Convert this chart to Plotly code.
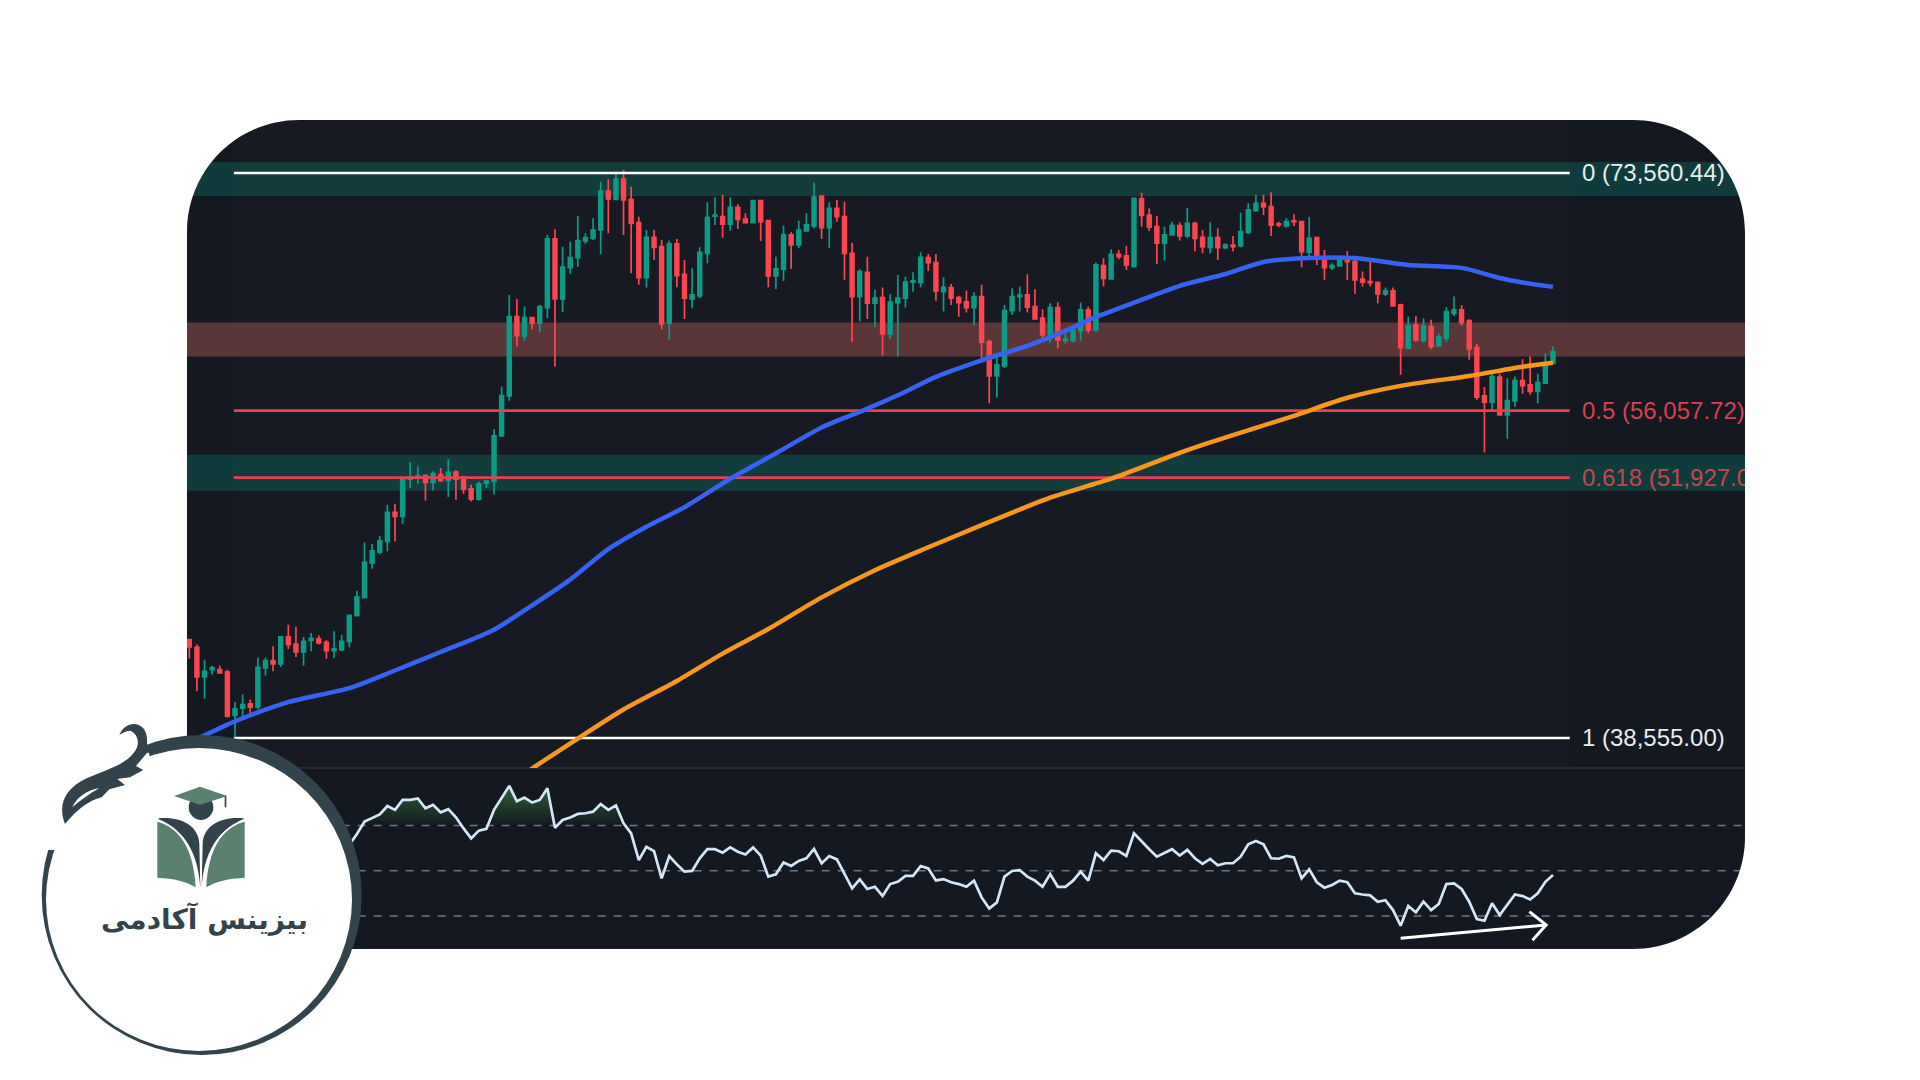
import math
import plotly.graph_objects as go

# daily candles
OPEN = [43150, 42770, 41350, 41690, 41690, 41580, 39560, 39890, 40090, 39950,
        41770, 42120, 41970, 43280, 42930, 42550, 43110, 43180, 43010, 42610,
        42660, 43060, 44350, 45270, 47100, 47690, 48270, 49900, 49670, 51840,
        51900, 52060, 51640, 52100, 51760, 52260, 51940, 51270, 50670, 51600,
        51700, 54470, 57010, 62420, 61060, 62350, 61950, 63070, 68220, 63700,
        66020, 66780, 68060, 68270, 68920, 72060, 71380, 73060, 71380, 69500,
        65270, 68350, 67620, 61950, 67830, 65520, 63700, 63920, 67110, 70030,
        69980, 69380, 70730, 69790, 69500, 71270, 69660, 65400, 65900, 68530,
        67750, 68840, 69240, 71650, 69110, 70650, 69980, 67110, 63870, 65670,
        63390, 63790, 61200, 63430, 63750, 64930, 64900, 66780, 66400, 64230,
        64530, 63790, 63480, 63070, 63870, 60660, 58330, 59000, 62850, 63870,
        63990, 63140, 62310, 61130, 63070, 60730, 60730, 61430, 62900, 61480,
        66170, 65170, 67030, 66910, 66090, 71410, 70110, 69180, 67900, 68530,
        69260, 68450, 69450, 68350, 67570, 68320, 67540, 67750, 67680, 68740,
        70460, 71060, 70790, 69400, 69240, 69640, 69580, 67190, 68320, 66730,
        66020, 66150, 66780, 66470, 65150, 64970, 64900, 64060, 64280, 63260,
        60210, 61830, 60730, 61710, 60370, 60900, 62660, 62900, 62140, 60250,
        57010, 56610, 58250, 55790, 56690, 58020, 57730, 57300, 57850, 59190]
HIGH = [43150, 42900, 42170, 41880, 41880, 41690, 40170, 40520, 40290, 42270,
        42270, 42820, 43310, 43890, 43780, 43280, 43480, 43350, 43110, 43560,
        43390, 44400, 45630, 48220, 48150, 48590, 50340, 50400, 51900, 52840,
        52590, 52100, 52300, 52500, 53040, 52360, 52040, 51500, 51700, 51800,
        54890, 57620, 63990, 63700, 63140, 62350, 63260, 68540, 68980, 67620,
        68010, 70030, 68660, 69850, 72830, 73030, 73670, 73810, 72420, 69980,
        68920, 68920, 68140, 68090, 68220, 66600, 65970, 67570, 71140, 71550,
        71730, 71550, 70980, 70250, 71330, 71270, 69660, 66850, 69260, 68740,
        69660, 70250, 72750, 71650, 71140, 71330, 71190, 67930, 65900, 66850,
        64360, 64530, 64060, 65470, 65340, 65670, 67190, 67060, 67060, 65300,
        64800, 63920, 64310, 64190, 64730, 60780, 59640, 63260, 64480, 64600,
        65520, 64410, 62950, 63390, 63460, 61480, 61600, 63430, 63140, 66400,
        66730, 67420, 67370, 67680, 71470, 71920, 70650, 70030, 69180, 69580,
        69530, 70700, 69580, 68920, 69530, 69060, 67880, 68450, 70300, 71060,
        71740, 71740, 71960, 69580, 69850, 70170, 69580, 69980, 68400, 67370,
        66350, 66910, 67290, 66600, 65720, 66470, 64970, 64530, 64530, 63340,
        62420, 62470, 62310, 62190, 61200, 63100, 63870, 63260, 62240, 60490,
        57590, 58470, 58470, 58180, 58290, 59460, 59640, 58470, 59820, 60320]
LOW = [42220, 40670, 40330, 41460, 41500, 39470, 38620, 39470, 39530, 39830,
       41410, 41610, 41820, 42690, 42300, 41880, 42580, 42900, 42210, 42250,
       42580, 42770, 44310, 45250, 46790, 47550, 47730, 48270, 49260, 51310,
       51560, 50590, 51170, 51680, 50790, 50630, 50980, 50530, 50570, 51310,
       50920, 54470, 56690, 60320, 60730, 61530, 61320, 62310, 58960, 62740,
       65540, 66090, 67850, 68140, 67030, 68660, 71380, 68530, 65590, 64730,
       64530, 66600, 61530, 60780, 64550, 62260, 63020, 63750, 66350, 69320,
       68320, 68870, 69000, 69500, 69500, 68060, 64550, 64430, 65020, 65920,
       67500, 68840, 69060, 68220, 67500, 69580, 65100, 60660, 62070, 62260,
       61670, 59700, 60850, 59640, 63070, 64230, 64550, 65770, 63570, 62780,
       63260, 62420, 62710, 61780, 59230, 56540, 56900, 58850, 62540, 62780,
       62710, 62240, 60900, 60590, 60180, 60510, 60620, 60730, 61250, 61360,
       64600, 65100, 66650, 65840, 66050, 69180, 68840, 66300, 66550, 68480,
       68090, 68270, 67240, 67110, 67110, 66600, 67420, 67240, 67570, 68580,
       70380, 70110, 68450, 69140, 69110, 69240, 66050, 66910, 66220, 65100,
       65840, 66090, 65100, 64060, 64600, 64600, 63390, 63920, 63140, 58400,
       60160, 60660, 60620, 60140, 60320, 60660, 62470, 61780, 59410, 56760,
       53440, 56070, 55730, 54270, 56290, 57150, 57080, 56540, 57800, 59140]
CLOSE = [42790, 41350, 41610, 41790, 41540, 39530, 39860, 40060, 39940, 41800,
         42120, 41960, 43280, 42900, 42550, 43060, 43210, 42980, 42610, 42690,
         43060, 44360, 45300, 47130, 47760, 48310, 49900, 49670, 51800, 51960,
         52040, 51640, 52160, 51740, 52240, 51840, 51250, 50670, 51560, 51720,
         54470, 57030, 62420, 61080, 62350, 61950, 63140, 68220, 63700, 66050,
         66780, 68090, 68320, 68920, 72060, 71410, 73060, 71330, 69450, 65270,
         68350, 67570, 61910, 67830, 65420, 63750, 63990, 67190, 69900, 70110,
         69380, 70730, 69770, 69500, 71270, 69580, 65400, 65920, 68530, 67750,
         68920, 69320, 71590, 69110, 70650, 69980, 67110, 63870, 65720, 63390,
         63750, 61200, 63460, 63750, 64930, 65020, 66800, 66400, 64280, 64550,
         63750, 63430, 63070, 63870, 60620, 58330, 59070, 62850, 63870, 63970,
         63100, 62260, 61130, 63070, 60780, 60830, 61430, 62900, 61480, 66220,
         65210, 67030, 66850, 66220, 71470, 70090, 69140, 67900, 68530, 69260,
         68450, 69450, 68270, 67620, 68320, 67540, 67750, 67620, 68790, 70520,
         71060, 70790, 69300, 69320, 69580, 69580, 67240, 68270, 66910, 66020,
         66170, 66800, 66470, 65100, 64930, 64900, 64060, 64280, 63190, 60250,
         61760, 60780, 61760, 60320, 60970, 62780, 62900, 62000, 60160, 56930,
         56610, 58290, 55790, 56710, 58020, 57690, 57300, 57890, 59230, 59980]

# moving averages, sampled along the curves
BLUE_INDEX = [0, 5, 6, 13, 21, 27, 33, 40, 45, 50, 55, 60, 65, 71, 77, 83, 88, 93, 98,
              104, 110, 115, 119, 125, 130, 136, 141, 147, 153, 160, 167, 172, 175, 179]
BLUE_MA = [38360, 39150, 39300, 40170, 40820, 41650, 42540, 43640, 44870, 46210, 47850,
           49090, 50200, 51860, 53390, 54990, 55980, 57050, 58270, 59380, 60370, 61410,
           62400, 63630, 64660, 65540, 66450, 66750, 66750, 66220, 66000, 65240, 64910, 64580]
ORANGE_INDEX = [42, 45, 51, 57, 64, 70, 76, 83, 90, 97, 104, 113, 121, 130, 133, 140,
                145, 152, 159, 168, 175, 179]
ORANGE_MA = [36540, 37233, 38530, 39830, 41150, 42460, 43670, 45280, 46710, 47950, 49180,
             50750, 51860, 53420, 53910, 54970, 55730, 56890, 57670, 58330, 58940, 59210]

FIB_PRICES = [73560.44, 56057.72, 51927.00, 38555.00]
FIB_LABELS = ["0 (73,560.44)", "0.5 (56,057.72)", "0.618 (51,927.00)", "1 (38,555.00)"]
FIB_COLORS = ["#ffffff", "#e8404f", "#e8404f", "#ffffff"]
FIB_TEXT_COLORS = ["#e6ecef", "#d9404f", "#c9444f", "#e6ecef"]
FIB_START = 5.85
FIB_END = 181.2
FIB_LABEL_X = 182.8

# zones marked on the price pane (low, high, fill)
ZONES = [(71652, 74490, "rgba(10,130,115,0.33)"),
         (59633, 62012, "#5a3639"),
         (51155, 53304, "rgba(10,130,115,0.33)")]

RSI_INDEX = list(range(19, 180))
RSI = [53.3, 56.2, 61.4, 66.2, 71.7, 73.2, 74.9, 78.6, 76.9, 81.3, 81.3, 81.9, 77.6, 79.1,
       75.8, 77.2, 73.6, 68.7, 64.3, 67.7, 68.5, 76.9, 82.0, 87.5, 80.7, 82.3, 80.1, 81.3,
       86.4, 69.0, 72.4, 73.5, 75.1, 75.4, 76.1, 79.5, 76.9, 78.9, 71.0, 66.5, 54.7, 60.6,
       58.7, 46.6, 56.5, 52.8, 49.6, 49.9, 55.5, 59.5, 59.5, 58.0, 60.3, 58.4, 57.2, 60.3,
       56.7, 47.4, 48.4, 53.6, 52.1, 54.3, 55.5, 59.6, 53.3, 56.5, 55.0, 48.8, 42.2, 46.2,
       41.9, 42.9, 38.8, 44.1, 45.1, 47.7, 47.7, 52.1, 51.0, 45.7, 46.3, 44.9, 44.1, 42.9,
       45.6, 38.2, 33.3, 36.0, 47.4, 49.9, 50.3, 47.4, 45.6, 42.9, 48.5, 42.9, 42.9, 45.6,
       49.6, 45.6, 57.7, 54.7, 58.9, 58.6, 56.5, 66.5, 62.8, 59.5, 56.2, 57.7, 59.5, 56.7,
       59.2, 55.5, 53.0, 55.2, 52.4, 53.3, 53.3, 56.2, 61.7, 63.1, 61.7, 55.5, 55.3, 56.5,
       55.9, 46.6, 50.6, 44.9, 42.5, 43.7, 45.6, 44.9, 40.0, 39.5, 39.1, 36.3, 37.0, 32.6,
       25.7, 34.4, 31.6, 36.3, 32.6, 35.3, 44.1, 44.4, 41.9, 36.3, 28.6, 27.9, 35.6, 30.4,
       34.8, 39.5, 38.8, 37.3, 40.0, 45.1, 48.1]
RSI_LEVELS = [70, 50, 30]

# hand drawn divergence arrow on the RSI pane
ARROW_X = [159.0, 178.1, 175.9, 178.1, 176.3]
ARROW_Y = [20.2, 26.0, 31.9, 26.0, 19.3]

BOOK_GREEN = "#5a8070"
LOGO_DARK = "#33434b"
KAPPA = 0.5523


def px(x):
    return x / 1920


def py(y):
    return 1 - y / 1080


def pt(x, y):
    return f"{px(x):.5f},{py(y):.5f}"


def svg(cmds):
    # cmds: (letter, x1, y1, x2, y2, ...) in screen pixels
    out = []
    for c in cmds:
        coords = " ".join(pt(c[i], c[i + 1]) for i in range(1, len(c), 2))
        out.append(f"{c[0]} {coords}".strip())
    return " ".join(out)


def zoom_pt(zx, zy):
    # logo parts were traced on a 3x crop starting at (30, 710)
    return 30 + zx / 3, 710 + zy / 3


def logo_path(cmds):
    out = []
    for c in cmds:
        vals = []
        for i in range(1, len(c), 2):
            vals.extend(zoom_pt(c[i], c[i + 1]))
        out.append((c[0], *vals))
    return svg(out)


def path_shape(d, fill, layer="above"):
    return dict(type="path", xref="paper", yref="paper", path=d, fillcolor=fill,
                line=dict(width=0), layer=layer)


def rect_shape(x0, y0, x1, y1, fill, layer="below"):
    return dict(type="rect", xref="paper", yref="paper", x0=px(x0), x1=px(x1),
                y0=py(y1), y1=py(y0), fillcolor=fill, line=dict(width=0), layer=layer)


def ellipse(x0, y0, x1, y1, fill, layer="above"):
    return dict(type="circle", xref="paper", yref="paper", x0=px(x0), x1=px(x1),
                y0=py(y1), y1=py(y0), fillcolor=fill, line=dict(width=0), layer=layer)


def corner_mask(x, y, sx, sy, r):
    k = r * (1 - KAPPA)
    return path_shape(svg([("M", x, y), ("L", x + sx * r, y),
                           ("C", x + sx * k, y, x, y + sy * k, x, y + sy * r), ("Z",)]), "#ffffff")


PANEL_L, PANEL_R, PANEL_T, PANEL_B, PANE_SPLIT = 187, 1745, 120, 949, 768
RADIUS = 112

fig = go.Figure()

for price, color in zip(FIB_PRICES, FIB_COLORS):
    fig.add_trace(go.Scatter(x=[FIB_START, FIB_END], y=[price, price], mode="lines",
                             line=dict(color=color, width=2.6), hoverinfo="skip"))

fig.add_trace(go.Candlestick(
    x=list(range(len(OPEN))), open=OPEN, high=HIGH, low=LOW, close=CLOSE,
    increasing=dict(line=dict(color="#0d9b86", width=1.7), fillcolor="#0d9b86"),
    decreasing=dict(line=dict(color="#fb4650", width=1.7), fillcolor="#fb4650"),
    whiskerwidth=0, hoverinfo="skip"))

fig.add_trace(go.Scatter(x=BLUE_INDEX, y=BLUE_MA, mode="lines",
                         line=dict(color="#3763f2", width=4.5, shape="spline", smoothing=0.7)))
fig.add_trace(go.Scatter(x=ORANGE_INDEX, y=ORANGE_MA, mode="lines",
                         line=dict(color="#f7981c", width=4.5, shape="spline", smoothing=0.7)))

# labels sit a touch below their lines, the text box is not centred on the digits
label_y = [p * math.exp(-0.0011424 * 2) for p in FIB_PRICES]
fig.add_trace(go.Scatter(
    x=[FIB_LABEL_X] * 4, y=label_y, mode="text", text=FIB_LABELS, textposition="middle right",
    textfont=dict(family="Liberation Sans", size=24, color=FIB_TEXT_COLORS), cliponaxis=True))

# RSI pane
for level in RSI_LEVELS:
    fig.add_trace(go.Scatter(x=[-1, 205], y=[level, level], mode="lines", xaxis="x2", yaxis="y2",
                             line=dict(color="#72757f", width=1.5, dash="8px,8px")))

fig.add_trace(go.Scatter(x=RSI_INDEX, y=[70] * len(RSI), mode="lines", xaxis="x2", yaxis="y2",
                         line=dict(width=0), hoverinfo="skip"))
fig.add_trace(go.Scatter(
    x=RSI_INDEX, y=[max(v, 70) for v in RSI], mode="lines", xaxis="x2", yaxis="y2",
    line=dict(width=0), fill="tonexty",
    fillgradient=dict(type="vertical", start=70, stop=88,
                      colorscale=[[0, "rgba(47,100,52,0)"], [1, "rgba(47,100,52,1)"]])))
fig.add_trace(go.Scatter(x=RSI_INDEX, y=RSI, mode="lines", xaxis="x2", yaxis="y2",
                         line=dict(color="#d3e6f7", width=2.7)))
fig.add_trace(go.Scatter(x=ARROW_X, y=ARROW_Y, mode="lines", xaxis="x2", yaxis="y2",
                         line=dict(color="#ffffff", width=3)))

# panel background and zones
shapes = [
    path_shape(svg([("M", PANEL_L + RADIUS, PANEL_T), ("L", PANEL_R - RADIUS, PANEL_T),
                    ("L", PANEL_R, PANEL_T), ("L", PANEL_R, PANEL_B), ("L", PANEL_L, PANEL_B),
                    ("L", PANEL_L, PANEL_T), ("Z",)]), "#141821", layer="below"),
    rect_shape(234, PANEL_T, 1570, PANE_SPLIT, "#181a23"),
    rect_shape(PANEL_L, PANE_SPLIT - 1, PANEL_R, PANE_SPLIT + 1, "#262a35"),
]
for low, high, fill in ZONES:
    shapes.append(dict(type="rect", xref="paper", yref="y", x0=px(PANEL_L), x1=px(PANEL_R),
                       y0=low, y1=high, fillcolor=fill, line=dict(width=0), layer="below"))

# rounded corners of the panel
shapes += [corner_mask(PANEL_L, PANEL_T, 1, 1, RADIUS), corner_mask(PANEL_R, PANEL_T, -1, 1, RADIUS),
           corner_mask(PANEL_L, PANEL_B, 1, -1, RADIUS), corner_mask(PANEL_R, PANEL_B, -1, -1, RADIUS)]

# logo badge
shapes += [
    ellipse(41.7, 735, 361.7, 1055, LOGO_DARK),
    ellipse(46, 748, 352, 1051, "#ffffff"),
    # gap in the ring at the upper left
    path_shape(logo_path([("M", 85, 420), ("L", 25, 420), ("L", 40, 250), ("L", 150, 90), ("L", 340, 40),
                          ("L", 360, 145), ("L", 210, 235), ("L", 120, 340), ("Z",)]), "#ffffff"),
    # ornament
    path_shape(logo_path([("M", 105, 342), ("C", 82, 285, 105, 235, 170, 205),
                          ("C", 225, 180, 285, 165, 310, 130), ("C", 335, 100, 322, 70, 300, 62),
                          ("C", 287, 62, 276, 70, 268, 75), ("C", 280, 42, 318, 30, 340, 55),
                          ("C", 355, 75, 350, 95, 352, 105), ("L", 400, 92), ("L", 420, 112),
                          ("L", 350, 130), ("L", 318, 168), ("L", 340, 180), ("L", 300, 202),
                          ("L", 262, 207), ("L", 285, 225), ("L", 238, 238), ("L", 215, 262),
                          ("C", 175, 272, 140, 300, 105, 342), ("Z",)]), LOGO_DARK),
    path_shape(logo_path([("M", 127, 292), ("C", 140, 262, 172, 240, 208, 234),
                          ("C", 180, 250, 152, 270, 127, 292), ("Z",)]), "#ffffff"),
    # book pages
    path_shape(logo_path([("M", 382, 335), ("C", 450, 352, 492, 420, 497, 532), ("C", 470, 515, 430, 505, 382, 503),
                          ("Z",)]), BOOK_GREEN),
    path_shape(logo_path([("M", 644, 335), ("C", 576, 352, 534, 420, 529, 532), ("C", 556, 515, 596, 505, 644, 503),
                          ("Z",)]), BOOK_GREEN),
    path_shape(logo_path([("M", 385, 325), ("C", 450, 318, 505, 345, 508, 400), ("L", 511, 535),
                          ("C", 505, 430, 465, 360, 385, 327), ("Z",)]), LOGO_DARK),
    path_shape(logo_path([("M", 641, 325), ("C", 576, 318, 521, 345, 518, 400), ("L", 515, 535),
                          ("C", 521, 430, 561, 360, 641, 327), ("Z",)]), LOGO_DARK),
    # graduate
    ellipse(*zoom_pt(476, 254), *zoom_pt(550, 330), LOGO_DARK),
    path_shape(logo_path([("M", 432, 258), ("L", 510, 230), ("L", 592, 258), ("L", 510, 284), ("Z",)]), BOOK_GREEN),
    path_shape(logo_path([("M", 584, 258), ("L", 589, 258), ("L", 589, 292), ("L", 584, 292), ("Z",)]), LOGO_DARK),
]

fig.update_layout(
    width=1920, height=1080, margin=dict(l=0, r=0, t=0, b=0),
    paper_bgcolor="#ffffff", plot_bgcolor="rgba(0,0,0,0)", showlegend=False,
    shapes=shapes,
    xaxis=dict(domain=[px(PANEL_L), px(PANEL_R)], range=[-0.30, 204.2], visible=False, rangeslider=dict(visible=False)),
    yaxis=dict(domain=[py(PANE_SPLIT), py(PANEL_T)], type="log", range=[4.57119, 4.89297], visible=False),
    xaxis2=dict(domain=[px(PANEL_L), px(PANEL_R)], range=[-0.30, 204.2], anchor="y2", visible=False),
    yaxis2=dict(domain=[py(PANEL_B), py(PANE_SPLIT)], range=[15.4, 95.4], anchor="x2", visible=False),
    annotations=[dict(text="<b>بیزینس آکادمی</b>", xref="paper", yref="paper", x=px(204.5), y=py(919),
                      xanchor="center", yanchor="middle", showarrow=False,
                      font=dict(family="DejaVu Sans", size=28, color=LOGO_DARK))],
)

fig.write_html("out.html", config=dict(displayModeBar=False),
               post_script="document.body.style.margin='0';")
